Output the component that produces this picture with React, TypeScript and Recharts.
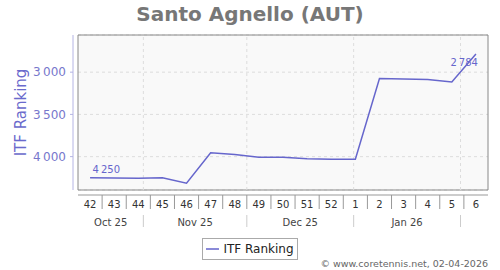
import React from 'react';
import { LineChart, Line, XAxis, YAxis, CartesianGrid, ReferenceLine, ReferenceArea, Legend, LabelList } from 'recharts';

// ISO weeks shown along the axis (Oct 2025 -> Feb 2026)
const weeks = ['42', '43', '44', '45', '46', '47', '48', '49', '50', '51', '52', '1', '2', '3', '4', '5', '6'];
const rankings = [4250, 4252, 4255, 4250, 4315, 3953, 3974, 4007, 4008, 4024, 4031, 4031, 3076, 3080, 3088, 3115, 2784];

const months = ['Oct 25', 'Nov 25', 'Dec 25', 'Jan 26'];
// first day of each following month, in week-index units (Nov 1, Dec 1, Jan 1, Feb 1)
const monthStarts = [2.21, 6.5, 10.93, 15.36];

const yTicks = [3000, 3500, 4000];
const yDomain = [2560, 4395];

const W = 500;
const H = 270;
const PLOT_LEFT = 78;
const PLOT_RIGHT = 488;
const X_MIN = -0.5;
const X_MAX = weeks.length - 0.5;
const BAND = (PLOT_RIGHT - PLOT_LEFT) / (X_MAX - X_MIN);

const LINE_COLOR = '#6666cc';
const FONT = '"DejaVu Sans", sans-serif';

const data = weeks.map((week, i) => ({ i, week, rank: rankings[i] }));

const fmt = (n: number) => String(n).replace(/\B(?=(\d{3})+(?!\d))/g, '\u2009');

// tick table: week labels, month separators, month labels
const tickInfo = new Map<number, { kind: string; label?: string; idx?: number }>();
weeks.forEach((w, i) => tickInfo.set(i, { kind: 'week', label: w, idx: i }));
monthStarts.forEach((m) => tickInfo.set(m, { kind: 'sep' }));
months.forEach((m, k) => {
  const start = k === 0 ? X_MIN : monthStarts[k - 1];
  const end = monthStarts[k];
  tickInfo.set((start + end) / 2, { kind: 'month', label: m });
});
const xTicks = Array.from(tickInfo.keys());

const AxisTick = (props: any) => {
  const { x, y, payload } = props;
  const info = tickInfo.get(payload.value);
  if (!info) return null;
  if (info.kind === 'week') {
    return (
      <g>
        <text x={x} y={y + 18} textAnchor="middle" fontSize={10} fill="#333" fontFamily={FONT}>
          {info.label}
        </text>
        {info.idx! < weeks.length - 1 && (
          <line x1={x + BAND / 2} x2={x + BAND / 2} y1={y + 5} y2={y + 19} stroke="#999" />
        )}
      </g>
    );
  }
  if (info.kind === 'sep') {
    return <line x1={x} x2={x} y1={y + 25} y2={y + 37} stroke="#ccc" />;
  }
  return (
    <text x={x} y={y + 35.5} textAnchor="middle" fontSize={10} fill="#444" fontFamily={FONT}>
      {info.label}
    </text>
  );
};

const PointLabel = (props: any) => {
  const { x, y, value, index } = props;
  if (index === 0) {
    return (
      <text x={x + 2.5} y={y - 5} fontSize={10} fill={LINE_COLOR} fontFamily={FONT}>
        {fmt(value)}
      </text>
    );
  }
  if (index === rankings.length - 1) {
    return (
      <text x={x + 2} y={y + 12} textAnchor="end" fontSize={10} fill={LINE_COLOR} fontFamily={FONT}>
        {fmt(value)}
      </text>
    );
  }
  return null;
};

const LegendBox = () => (
  <div style={{ textAlign: 'center', fontFamily: FONT }}>
    <div
      style={{
        display: 'inline-flex',
        alignItems: 'center',
        border: '1px solid #aaa',
        height: 20,
        padding: '0 3px',
        background: '#fff',
      }}
    >
      <span style={{ display: 'inline-block', width: 13, borderTop: '2px solid #8a8ad8', marginRight: 4 }} />
      <span style={{ fontSize: 12, color: '#222' }}>ITF Ranking</span>
    </div>
  </div>
);

export default function App() {
  return (
    <div style={{ position: 'absolute', left: 0, top: 0, width: W, height: H, background: '#fff', fontFamily: FONT }}>
      <div
        style={{
          position: 'absolute',
          top: 2,
          left: 0,
          width: W,
          textAlign: 'center',
          fontSize: 20,
          fontWeight: 'bold',
          color: '#777',
        }}
      >
        Santo Agnello (AUT)
      </div>
      <LineChart width={W} height={H} data={data} margin={{ top: 35, right: W - PLOT_RIGHT, left: 0, bottom: 40 }}>
        <CartesianGrid vertical={false} stroke="#ddd" strokeDasharray="3 3" fill="#f9f9f9" />
        {monthStarts.map((m) => (
          <ReferenceLine key={m} x={m} stroke="#ddd" strokeDasharray="3 3" />
        ))}
        <ReferenceArea x1={X_MIN} x2={X_MAX} y1={yDomain[0]} y2={yDomain[1]} fill="none" stroke="#888" />
        <XAxis
          dataKey="i"
          type="number"
          domain={[X_MIN, X_MAX]}
          ticks={xTicks}
          interval={0}
          tickLine={false}
          tickSize={0}
          tickMargin={0}
          tick={<AxisTick />}
          axisLine={{ stroke: '#999', transform: 'translate(0,5)' }}
          height={40}
        />
        <YAxis
          reversed
          domain={yDomain}
          allowDataOverflow
          ticks={yTicks}
          width={PLOT_LEFT}
          tickSize={3}
          tickMargin={9}
          tickLine={{ stroke: '#b4b4e4', transform: 'translate(-5,0)' }}
          tickFormatter={fmt}
          tick={{ fontSize: 12, fill: '#7777cc', fontFamily: FONT }}
          axisLine={{ stroke: '#b4b4e4', transform: 'translate(-5,0)' }}
          label={{
            value: 'ITF Ranking',
            angle: -90,
            position: 'center',
            dx: -18,
            fontSize: 15,
            fill: '#6a6acc',
            fontFamily: FONT,
          }}
        />
        <Legend
          layout="horizontal"
          verticalAlign="middle"
          align="center"
          wrapperStyle={{ left: 0, top: 235, width: W }}
          content={() => <LegendBox />}
        />
        <Line
          type="linear"
          dataKey="rank"
          name="ITF Ranking"
          stroke={LINE_COLOR}
          strokeWidth={1.5}
          dot={false}
          isAnimationActive={false}
        >
          <LabelList dataKey="rank" content={<PointLabel />} />
        </Line>
      </LineChart>
      <div
        style={{
          position: 'absolute',
          right: W - PLOT_RIGHT,
          top: 258,
          fontSize: 9.5,
          color: '#666',
          whiteSpace: 'nowrap',
        }}
      >
        © www.coretennis.net, 02-04-2026
      </div>
    </div>
  );
}
